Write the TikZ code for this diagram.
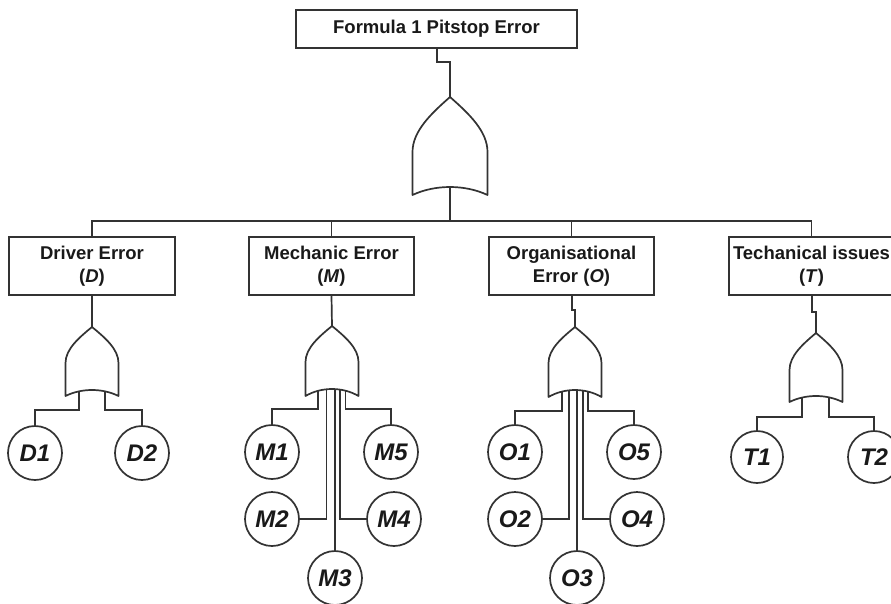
\documentclass[tikz,border=0pt]{standalone}
\usepackage{fontspec}
\setmainfont{Liberation Sans}
\begin{document}
\begin{tikzpicture}[x=1pt,y=-1pt,
  ln/.style={draw=black!80, line width=1.7pt},
  gate/.style={draw=black!80, line width=1.7pt, fill=white, line join=round},
  box/.style={draw=black!80, line width=1.7pt, fill=white, inner sep=0pt, text=black!90,
    font=\fontsize{18.5}{23}\selectfont\bfseries, align=center},
  ev/.style={circle, draw=black!80, line width=1.7pt, fill=white, minimum size=54pt, inner sep=0pt,
    text=black!90, font=\fontsize{24}{24}\selectfont\bfseries\itshape}]
\newcommand\orgate[6]{%
 \draw[gate] (#1,#2) .. controls ({#1-0.5*#3},{#2+0.3*(#4-#2)}) and ({#1-#3},{#2+0.62*(#4-#2)}) .. ({#1-#3},#4)
   -- ({#1-#3},#5) .. controls ({#1-0.4*#3},{(4*#6-#5)/3}) and ({#1+0.4*#3},{(4*#6-#5)/3}) .. ({#1+#3},#5)
   -- ({#1+#3},#4) .. controls ({#1+#3},{#2+0.62*(#4-#2)}) and ({#1+0.5*#3},{#2+0.3*(#4-#2)}) .. (#1,#2) -- cycle;}
\useasboundingbox (0,0) rectangle (891,603);
\clip (0,0) rectangle (891,603);
\fill[white] (0,0) rectangle (891,603);

% boxes
\node[box, minimum width=281pt, minimum height=38pt] (top) at (436.5,29) {Formula 1 Pitstop Error};
\node[box, minimum width=166pt, minimum height=58pt] (D) at (92,266) {Driver Error\\(\textit{D})};
\node[box, minimum width=165pt, minimum height=58pt] (M) at (331.5,266) {Mechanic Error\\(\textit{M})};
\node[box, minimum width=165pt, minimum height=58pt] (O) at (571.5,266) {Organisational\\Error (\textit{O})};
\node[box, minimum width=165pt, minimum height=58pt] (T) at (811.5,266) {Techanical issues\\(\textit{T})};

% events
\node[ev] (D1) at (35,453) {D1};
\node[ev] (D2) at (142,453) {D2};
\node[ev] (M1) at (272,452) {M1};
\node[ev] (M2) at (272,519) {M2};
\node[ev] (M3) at (335,578) {M3};
\node[ev] (M4) at (394,519) {M4};
\node[ev] (M5) at (391,452) {M5};
\node[ev] (O1) at (515,452) {O1};
\node[ev] (O2) at (515,519) {O2};
\node[ev] (O3) at (577,578) {O3};
\node[ev] (O4) at (637,519) {O4};
\node[ev] (O5) at (634,452) {O5};
\node[ev, minimum size=52pt] (T1) at (757,457) {T1};
\node[ev, minimum size=52pt] (T2) at (874,457) {T2};

% gate coordinates
\coordinate (g0) at (450,97);   \coordinate (g0b) at (450,89);
\coordinate (gD) at (92,327);
\coordinate (gM) at (332,326);
\coordinate (gO) at (575,327);
\coordinate (gT) at (816,333);
\coordinate (bus) at (450,221);

% connectors
\draw[ln] (top.south -| 437,0) |- (443,62) -| (g0);
\draw[ln] (g0b) -- (bus);
\draw[ln] (D.north) |- (bus) -| (T.north);
\draw[ln] (M.north) -- (M.north |- bus);
\draw[ln] (O.north) -- (O.north |- bus);
\draw[ln] (D.south) -- (gD);
\draw[ln] (M.south) -- (gM);
\draw[ln] (O.south -| 572,0) -- (572,310) -- (575,310) -- (gO);
\draw[ln] (T.south -| 812,0) -- (812,312) -- (816,312) -- (gT);

% D legs
\draw[ln] (D1.north) |- (79,410) -- (79,388);
\draw[ln] (D2.north) |- (105,410) -- (105,388);
% M legs
\draw[ln] (M1.north) |- (318,409) -- (318,388);
\draw[ln] (M2.east) -| (326.5,388);
\draw[ln] (M3.north) -- (335,388);
\draw[ln] (M4.west) -| (340,388);
\draw[ln] (M5.north) |- (345.5,409) -- (345.5,388);
% O legs
\draw[ln] (O1.north) |- (562,411) -- (562,388);
\draw[ln] (O2.east) -| (569,388);
\draw[ln] (O3.north) -- (577,388);
\draw[ln] (O4.west) -| (583,388);
\draw[ln] (O5.north) |- (588,411) -- (588,388);
% T legs
\draw[ln] (T1.north) |- (802,417) -- (802,395);
\draw[ln] (T2.north) |- (829,417) -- (829,395);

% gates
\orgate{450}{97}{37.5}{152}{195}{187}
\orgate{92}{327}{26.5}{363}{396}{390}
\orgate{332}{326}{26.5}{362}{396}{389}
\orgate{575}{327}{26.5}{363}{397}{390}
\orgate{816}{333}{26.5}{370}{402}{396}
\end{tikzpicture}
\end{document}
